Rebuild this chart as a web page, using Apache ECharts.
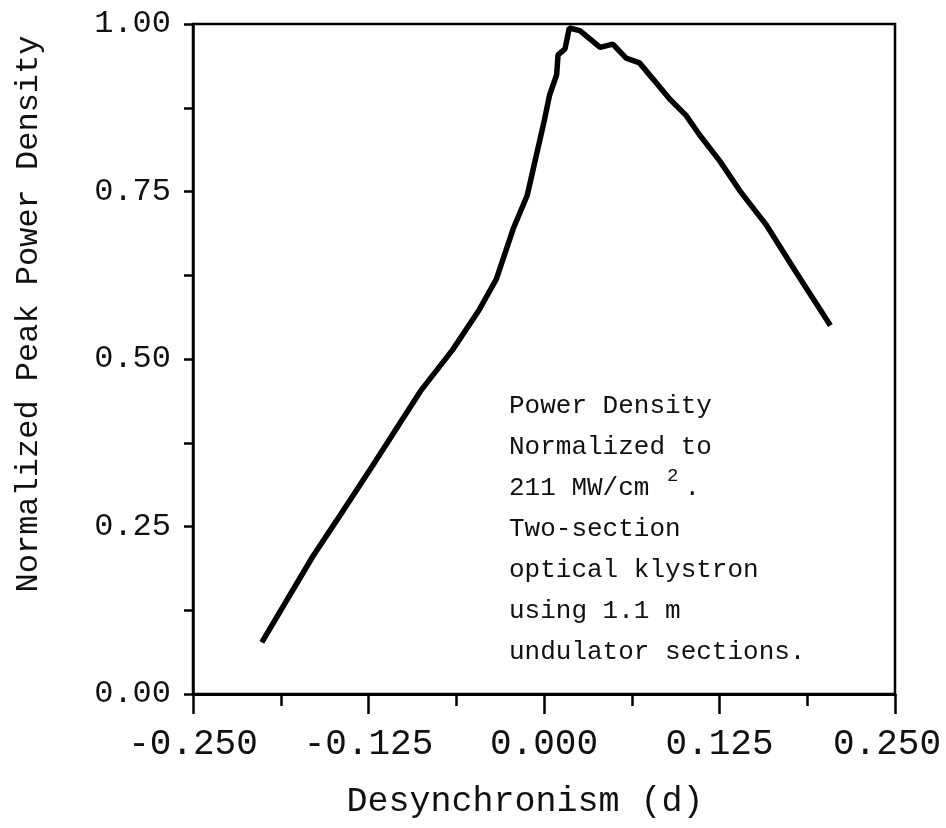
<!DOCTYPE html>
<html>
<head>
<meta charset="utf-8">
<script src="https://cdn.jsdelivr.net/npm/echarts@6/dist/echarts.min.js"></script>
<style>
html,body{margin:0;padding:0;background:#fff;}
#chart{width:946px;height:828px;}
</style>
</head>
<body>
<div id="chart"></div>
<script>
// Data
var desync = [-0.201, -0.1645, -0.148, -0.122, -0.088, -0.065, -0.046, -0.034, -0.022, -0.012, 0.000, 0.004, 0.009, 0.010, 0.015, 0.018, 0.0255, 0.040, 0.049, 0.0585, 0.068, 0.078, 0.0895, 0.101, 0.111, 0.1254, 0.1395, 0.158, 0.180, 0.204];
var power  = [0.077, 0.206, 0.258, 0.341, 0.452, 0.514, 0.574, 0.619, 0.694, 0.744, 0.854, 0.894, 0.924, 0.954, 0.963, 0.994, 0.990, 0.965, 0.970, 0.949, 0.942, 0.917, 0.888, 0.864, 0.834, 0.795, 0.751, 0.701, 0.628, 0.550];
var xTicks = [-0.25, -0.125, 0, 0.125, 0.25];
var yTicks = [0, 0.25, 0.5, 0.75, 1.0];
var xTitle = 'Desynchronism (d)';
var yTitle = 'Normalized Peak Power Density';
var noteLines = ['Power Density', 'Normalized to', '211 MW/cm ', 'Two-section', 'optical klystron', 'using 1.1 m', 'undulator sections.'];

var FONT = '"Liberation Mono", "DejaVu Sans Mono", monospace';
var pairs = desync.map(function (d, i) { return [d, power[i]]; });

var chart = echarts.init(document.getElementById('chart'), null, {renderer: 'canvas'});

var noteGraphics = noteLines.map(function (t, i) {
  return {
    type: 'text', left: 509, top: 393 + i * 41,
    style: {text: t, font: '26px ' + FONT, fill: '#111'}
  };
});
noteGraphics.push({type: 'text', left: 509 + 10 * 15.6 + 2, top: 393 + 2 * 41 - 9,
  style: {text: '2', font: '19px ' + FONT, fill: '#111'}});
noteGraphics.push({type: 'text', left: 509 + 11 * 15.6 + 4, top: 393 + 2 * 41,
  style: {text: '.', font: '26px ' + FONT, fill: '#111'}});

chart.setOption({
  animation: false,
  backgroundColor: '#fff',
  grid: {left: 193, right: 51, top: 24, bottom: 134, show: true, borderColor: '#000', borderWidth: 2.5,
         backgroundColor: 'transparent', containLabel: false, outerBoundsMode: 'none'},
  xAxis: {
    type: 'value', min: -0.25, max: 0.25, interval: 0.125,
    name: xTitle, nameLocation: 'middle', nameGap: 90,
    nameTextStyle: {fontFamily: FONT, fontSize: 35, color: '#111', padding: [0, 38, 0, 0]},
    axisLine: {show: true, onZero: false, lineStyle: {color: '#000', width: 3}},
    axisTick: {show: true, inside: false, length: 20, lineStyle: {color: '#000', width: 2.5}},
    minorTick: {show: true, splitNumber: 2, length: 12, lineStyle: {color: '#000', width: 2.5}},
    splitLine: {show: false},
    axisLabel: {
      margin: 32, fontFamily: FONT, fontSize: 36, color: '#111',
      showMinLabel: true, showMaxLabel: true,
      formatter: function (v) {
        var s = v.toFixed(3);
        return v >= 0.25 ? '{edge|' + s + '}' : s;
      },
      rich: {edge: {fontFamily: FONT, fontSize: 36, color: '#111', padding: [0, 16, 0, 0]}}
    }
  },
  yAxis: {
    type: 'value', min: 0, max: 1, interval: 0.25,
    name: yTitle, nameLocation: 'middle', nameGap: 148, nameRotate: 90,
    nameTextStyle: {fontFamily: FONT, fontSize: 32, color: '#111', padding: [0, 0, 0, 90]},
    axisLine: {show: true, onZero: false, lineStyle: {color: '#000', width: 2.5}},
    axisTick: {show: true, inside: false, length: 9, lineStyle: {color: '#000', width: 2.5}},
    minorTick: {show: true, splitNumber: 2, length: 9, lineStyle: {color: '#000', width: 2.5}},
    splitLine: {show: false},
    axisLabel: {
      margin: 22, fontFamily: FONT, fontSize: 32, color: '#111',
      showMinLabel: true, showMaxLabel: true,
      formatter: function (v) { return v.toFixed(2); }
    }
  },
  series: [{
    type: 'line', data: pairs, showSymbol: false, smooth: false,
    lineStyle: {color: '#000', width: 5.5}, itemStyle: {color: '#000'}
  }],
  graphic: noteGraphics
});
</script>
</body>
</html>
